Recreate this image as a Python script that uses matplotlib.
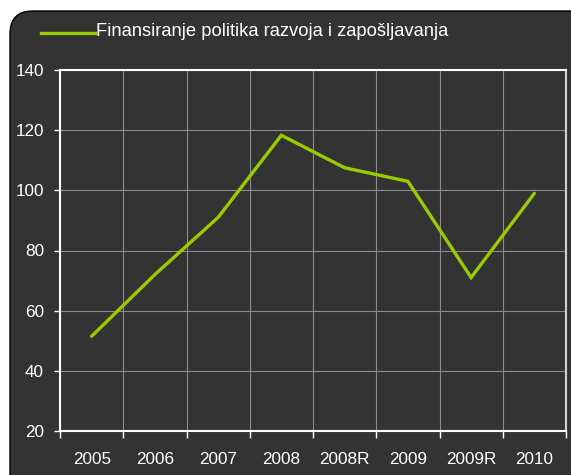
import matplotlib
matplotlib.use("Agg")
import matplotlib.pyplot as plt
from matplotlib.patches import FancyBboxPatch
from matplotlib.lines import Line2D

# data
categories = ["2005", "2006", "2007", "2008", "2008R", "2009", "2009R", "2010"]
values = [51.5, 72, 91, 118.3, 107.5, 103, 71, 99]
series_name = "Finansiranje politika razvoja i zapošljavanja"
y_ticks = [20, 40, 60, 80, 100, 120, 140]

W, H = 571, 475
plt.rcParams['font.family'] = ['Liberation Sans', 'DejaVu Sans']

fig = plt.figure(figsize=(W / 100, H / 100), dpi=100, facecolor="white")

# dark rounded panel behind everything
panel = FancyBboxPatch((10 / W, -30 / H), 600 / W, (475 - 11 + 30) / H,
                       boxstyle="round,pad=0,rounding_size=0.04",
                       transform=fig.transFigure, facecolor="#333333",
                       edgecolor="black", linewidth=1.0, zorder=-5,
                       mutation_aspect=W / H)
fig.patches.append(panel)

ax = fig.add_axes([60 / W, (H - 431) / H, (566 - 60) / W, (431 - 70) / H])
ax.set_facecolor("#333333")

x = list(range(len(categories)))
ax.plot(x, values, color="#99cc00", linewidth=2.4, solid_capstyle="round",
        solid_joinstyle="miter", zorder=3)

ax.set_xlim(-0.5, len(categories) - 0.5)
ax.set_ylim(20, 140)
ax.set_yticks(y_ticks)
ax.set_xticks(x)
ax.set_xticklabels(categories)
ax.set_xticks([i - 0.5 for i in range(len(categories) + 1)], minor=True)

ax.grid(True, which="major", axis="y", color="#8c8c8c", linewidth=0.8)
ax.grid(True, which="minor", axis="x", color="#8c8c8c", linewidth=0.8)
ax.tick_params(axis="x", which="major", length=0, pad=15, labelsize=12.3, colors="white")
ax.tick_params(axis="x", which="minor", length=5, width=1.0, color="white", direction="out")
ax.tick_params(axis="y", length=4.5, width=1.0, color="white", labelsize=12.3,
               labelcolor="white", pad=7)

for side in ["left", "bottom", "top"]:
    ax.spines[side].set_color("white")
    ax.spines[side].set_linewidth(1.5)
ax.spines["right"].set_color("#d0d0d0")
ax.spines["right"].set_linewidth(1.5)

# legend drawn at top of panel
fig.add_artist(Line2D([41 / W, 95 / W], [(H - 33) / H, (H - 33) / H],
                      color="#99cc00", linewidth=2.4, transform=fig.transFigure))
fig.text(96 / W, (H - 32) / H, series_name, color="white", fontsize=13.2,
         va="center", ha="left")

fig.savefig("out.png", dpi=100, facecolor="white")
